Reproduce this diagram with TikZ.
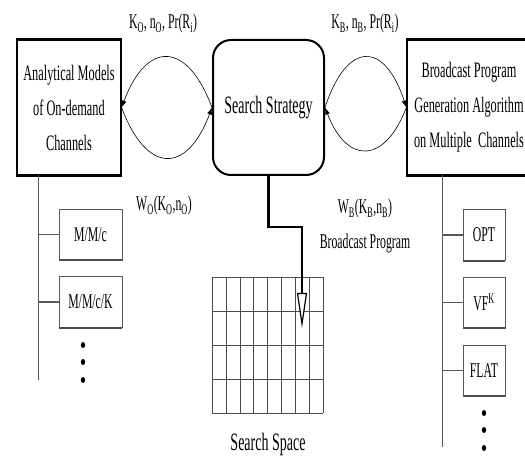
\documentclass[tikz,border=0pt]{standalone}
\usepackage{fontspec}
\setmainfont[FakeStretch=0.56]{Liberation Serif}
\usetikzlibrary{arrows.meta}

\begin{document}
\begin{tikzpicture}[x=1pt,y=-1pt,
    >={Latex[length=7pt,width=5pt]},
    every node/.style={font=\fontsize{22}{35}\selectfont, inner sep=0pt},
    big/.style={font=\fontsize{25}{35}\selectfont},
    tag/.style={font=\fontsize{21}{35}\selectfont, anchor=base},
    block/.style={draw, line width=1.2pt, minimum height=135pt, align=center},
    leaf/.style={draw=gray!70!black, line width=0.8pt, minimum width=63pt, minimum height=51pt,
        font=\fontsize{21}{30}\selectfont},
    flow/.style={line width=0.6pt, ->},
    branch/.style={draw=gray!70!black, line width=0.8pt},
    gridline/.style={draw=gray!60!black, line width=0.7pt}]
    \useasboundingbox (0,0) rectangle (525,457);
    \clip (0,0) rectangle (525,457);

    % main blocks
    \node[block, minimum width=104pt] (models) at (69,107.5)
        {Analytical Models\\of On-demand\\Channels};
    \node[block, big, minimum width=111pt, line width=2pt, rounded corners=18pt] (search) at (268.5,107.5)
        {Search Strategy};
    \node[block, minimum width=124pt] (bcast) at (469,107.5)
        {Broadcast Program\\Generation Algorithm\\on Multiple\ \ Channels};
    \foreach \b in {models,bcast}{
        \draw[line width=3.5pt] (\b.north west) -- (\b.north east);
        \draw[line width=3.5pt] (\b.south west) -- (\b.south east);
    }

    % exchanges between the blocks
    \draw[flow] (search.west) .. controls +(-25,-67) and +(25,-67) .. (models.east);
    \draw[flow] (models.east) .. controls +(25,67) and +(-25,67) .. (search.west);
    \draw[flow] (search.east) .. controls +(22,-67) and +(-22,-67) .. (bcast.west);
    \draw[flow] (bcast.west) .. controls +(-22,57) and +(22,57) .. (search.east);

    \node[tag] (inO) at (163,29) {K\textsubscript{O}, n\textsubscript{O}, Pr(R\textsubscript{i})};
    \node[tag] (inB) at (365,29) {K\textsubscript{B}, n\textsubscript{B}, Pr(R\textsubscript{i})};
    \node[tag] (outO) at (164,211) {W\textsubscript{O}(K\textsubscript{O},n\textsubscript{O})};
    \node[tag, align=center] (outB) at (365,249) {W\textsubscript{B}(K\textsubscript{B},n\textsubscript{B})\\Broadcast Program};

    % search space
    \foreach \i in {0,...,8}
        \draw[gridline, line width=0.5pt] (212+\i*13.875,277) -- ++(0,136);
    \foreach \j in {0,...,4}
        \draw[gridline] (212,277+\j*34) -- ++(111,0);
    \node[big, anchor=base] (space) at (268,450) {Search Space};
    \coordinate (probe) at (302,328);
    \draw[line width=2.5pt, -{Triangle[length=35pt,width=10pt,fill=white,line width=1.2pt]}]
        (search.south) -- ++(0,51) -| (probe);

    % queueing models
    \coordinate (trunkL) at (38,175);
    \draw[branch] (trunkL) -- (38,380);
    \node[leaf] (mmc) at (90.5,234.5) {M/M/c};
    \node[leaf] (mmck) at (90.5,302) {M/M/c/K};
    \foreach \q in {mmc,mmck}{
        \draw[branch, line width=1.5pt] (trunkL |- \q.west) -- (\q.west);
        \draw[gray!60!black, line width=2pt] (\q.south west) -- (\q.south east);
    }
    \foreach \y in {345,362,380}
        \fill (83,\y) ellipse (2.2 and 3);

    % program generators
    \coordinate (trunkR) at (442,175);
    \draw[branch] (trunkR) -- (442,447);
    \node[leaf, minimum width=42pt] (opt) at (484,235) {OPT};
    \node[leaf, minimum width=42pt] (vfk) at (484,302.5) {VF\textsuperscript{K}};
    \node[leaf, minimum width=42pt] (flat) at (484,370.5) {FLAT};
    \foreach \q in {opt,vfk,flat}{
        \draw[branch, line width=1.5pt] (trunkR |- \q.west) -- (\q.west);
        \draw[gray!60!black, line width=2pt] (\q.south west) -- (\q.south east);
    }
    \foreach \y in {413,430,448}
        \fill (484,\y) ellipse (2.2 and 3);
\end{tikzpicture}
\end{document}
